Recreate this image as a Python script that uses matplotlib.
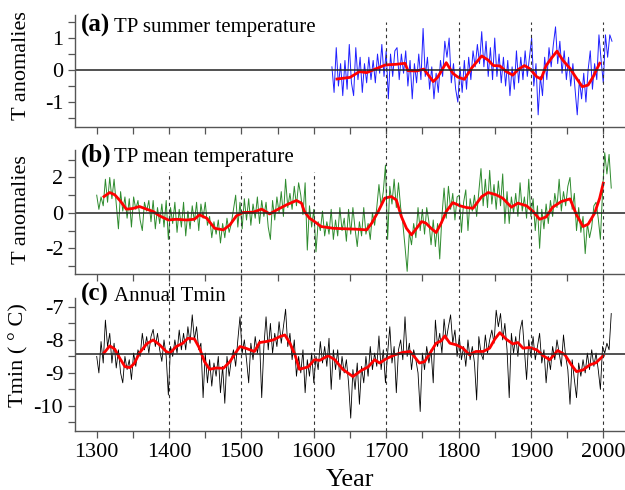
import numpy as np
import matplotlib
matplotlib.use("Agg")
import matplotlib.pyplot as plt

plt.rcParams['font.family'] = ['Liberation Serif', 'DejaVu Serif']
plt.rcParams['axes.unicode_minus'] = False

# (a) TP summer temperature, 3-yr samples from 1625
sum_start = 1625
sum_vals = [0.1, -0.7, 0.7, -0.5, 0.2, -0.8, 0.3, -0.6, 0.8, -0.4,
            -0.8, 0.7, -0.3, 0.4, -0.7, 0.2, -0.4, 0.4, -0.3, 0.3,
            -0.4, 0.5, -0.1, 0.8, -0.2, 0.6, -0.9, 0.5, -0.2, 0.6,
            0.7, -0.3, 0.5, -0.1, 0.6, -0.5, 0.3, -0.9, 0.2, -0.4,
            0.5, -0.3, 1.3, -0.2, 0.4, -0.6, 0.1, -0.9, -0.1, -0.7,
            0.3, -0.2, 0.9, 0.4, 1.0, -0.4, 0.2, -0.6, -1.0, 0.1,
            -0.7, 0.3, -0.6, 0.4, -0.3, 0.6, 0.1, 0.8, 0.2, 1.2,
            0.1, 0.9, -0.2, 0.7, -0.3, 1.0, -0.2, 0.5, -0.4, 0.4,
            -0.5, 0.3, -0.8, 0.1, -0.6, 0.6, -0.4, 0.4, -0.3, 0.6,
            -0.2, 0.4, 1.0, -0.5, 0.2, -1.4, -0.2, -0.8, 0.4, -0.3,
            0.7, 0.1, 0.8, 1.35, 0.2, 0.9, -0.1, 0.6, -0.3, 0.4,
            -0.5, 0.2, -0.6, -1.4, -0.3, -0.9, -0.1, -1.0, 0.0, 0.6,
            -0.6, 0.2, -0.3, 1.1, 0.3, -0.4, 1.1, 0.4, 1.1, 0.9]
sum_sm_yr = [1632, 1650, 1663, 1673, 1687, 1699, 1714, 1726, 1730, 1742,
             1752, 1765, 1771, 1783, 1792, 1799, 1808, 1818, 1832, 1841,
             1848, 1857, 1866, 1875, 1882, 1891, 1898, 1908, 1914, 1921,
             1928, 1936, 1944, 1954, 1963, 1971, 1979, 1986, 1995]
sum_sm = [-0.28, -0.23, -0.05, -0.08, 0.05, 0.16, 0.18, 0.21, -0.02, -0.03,
          0.03, -0.36, -0.23, 0.23, -0.1, -0.22, -0.29, 0.06, 0.44, 0.31,
          0.14, 0.13, -0.05, -0.16, 0.01, 0.14, 0.05, -0.21, -0.28, 0.14,
          0.36, 0.59, 0.31, 0.05, -0.26, -0.52, -0.47, -0.21, 0.21]

# (b) TP mean temperature, 3-yr samples from 1300
mean_start = 1300
mean_vals = [1.0, 0.2, 0.9, 0.4, 1.9, 0.6, 2.0, 0.8, 1.9, 0.5,
             -0.9, 1.2, 0.1, 0.9, -0.3, 0.8, -0.8, 0.9, 0.2, 0.7,
             -0.4, -1.0, 0.6, 0.1, 0.7, -0.5, 0.7, -0.9, 0.3, -0.6,
             0.5, -0.8, 0.7, -1.5, 0.3, -0.6, 0.6, -1.1, 0.2, -0.8,
             0.6, -1.3, 0.1, -0.9, 0.4, -0.5, 0.6, -1.0, 0.5, -0.3,
             0.6, -0.7, -0.2, -1.4, -0.5, -1.2, -0.4, -1.7, -0.6, -1.4,
             -0.3, -1.1, -0.6, 0.2, 1.0, -0.8, 0.6, -0.9, 0.8, -0.4,
             0.8, -0.7, 0.5, -0.3, 0.9, -0.6, 0.7, -0.2, 0.6, -0.8,
             -1.5, 0.7, -0.4, 0.9, 0.0, 1.2, -0.2, 1.9, 0.3, 1.1,
             0.2, 1.5, 0.4, 1.7, 1.0, -0.1, 1.7, -2.1, 0.4, -0.8,
             0.2, -2.2, -0.5, -1.0, 0.1, -1.3, -0.5, -1.2, 0.2, -1.5,
             -0.4, -1.3, 0.3, -1.0, -0.3, -1.6, 0.2, -1.2, 0.3, -0.9,
             -1.9, -0.5, -1.3, 0.3, -1.2, -0.6, -1.5, 0.0, -0.7, 0.3,
             1.6, 0.4, 1.2, 2.7, -1.5, 1.5, 0.5, 1.9, 0.3, 1.7,
             0.3, -0.6, -1.9, -3.3, -1.1, -1.8, -0.6, -1.4, 0.3, -1.0,
             0.2, -1.2, 0.3, -0.5, -1.8, -0.4, -1.9, -0.6, -2.6, -0.2,
             1.4, -0.3, 1.5, 0.2, 1.1, -0.4, 0.9, 1.0, -1.1, 0.6,
             1.3, -1.0, 0.8, 0.1, 1.0, -0.2, 1.2, 2.5, 0.4, 1.9,
             0.3, 2.4, 0.5, 1.6, 0.2, 1.8, 0.4, 2.2, -0.6, 1.2,
             -0.6, 0.9, 0.0, 1.1, -0.2, 1.7, 0.1, 0.9, -0.3, 1.9,
             -0.2, 0.8, -1.0, 0.4, -2.0, 0.2, -0.9, 0.5, -0.6, 0.7,
             -0.2, 1.1, 0.3, 1.9, 0.1, 1.2, 0.4, 1.5, 2.0, 0.2,
             1.1, -1.0, 0.3, -1.1, -0.2, -2.3, -0.6, -1.4, -0.8, 0.4,
             0.6, -0.3, -1.5, 1.2, 3.4, 2.2, 3.3, 1.4]
mean_sm_yr = [1310, 1318, 1325, 1332, 1341, 1350, 1359, 1369, 1378, 1387,
              1399, 1410, 1424, 1435, 1442, 1452, 1463, 1475, 1484, 1493,
              1502, 1516, 1528, 1539, 1548, 1562, 1576, 1583, 1587, 1594,
              1601, 1610, 1627, 1645, 1659, 1673, 1680, 1689, 1698, 1707,
              1714, 1721, 1728, 1735, 1742, 1749, 1755, 1762, 1769, 1776,
              1783, 1792, 1802, 1811, 1820, 1832, 1841, 1852, 1861, 1873,
              1882, 1894, 1903, 1912, 1921, 1930, 1942, 1954, 1963, 1972,
              1979, 1988, 1995, 2000]
mean_sm = [0.92, 1.15, 1.02, 0.7, 0.21, 0.25, 0.36, 0.21, 0.08, -0.17,
           -0.4, -0.36, -0.4, -0.36, -0.11, -0.3, -0.87, -0.96, -0.68, -0.17,
           0.02, 0.04, 0.21, -0.06, 0.15, 0.45, 0.7, 0.55, 0.08, -0.3,
           -0.49, -0.77, -0.87, -0.9, -0.92, -0.96, -0.58, 0.08, 0.83, 0.92,
           0.73, -0.21, -0.87, -1.24, -0.87, -0.49, -0.58, -0.87, -1.11, -0.58,
           0.08, 0.58, 0.4, 0.3, 0.26, 0.92, 1.15, 1.02, 0.83, 0.32,
           0.55, 0.4, 0.08, -0.36, -0.23, 0.32, 0.64, 0.79, -0.11, -0.77,
           -0.64, -0.02, 0.83, 1.68]

# (c) Annual Tmin, 3-yr samples from 1300
tmin_start = 1300
tmin_vals = [-8.5, -9.0, -8.05, -8.7, -7.4, -8.2, -7.8, -8.7, -8.1, -8.85,
             -8.3, -9.0, -9.3, -8.5, -8.9, -8.6, -9.2, -8.4, -8.8, -8.3,
             -8.5, -7.8, -8.3, -7.9, -8.4, -7.9, -7.68, -8.2, -7.8, -8.3,
             -8.65, -8.0, -8.5, -9.67, -8.2, -8.5, -8.0, -8.4, -7.7, -8.3,
             -7.8, -8.3, -7.6, -8.1, -7.24, -8.0, -7.6, -8.3, -8.1, -9.75,
             -8.4, -9.3, -8.6, -9.4, -8.7, -9.1, -8.5, -9.6, -8.8, -9.92,
             -8.5, -9.1, -8.6, -8.3, -8.8, -8.0, -7.3, -8.4, -8.0, -8.6,
             -9.3, -8.1, -8.6, -7.9, -8.4, -8.0, -9.75, -8.2, -7.3, -8.3,
             -7.5, -8.4, -7.8, -8.2, -7.45, -8.1, -7.6, -7.07, -8.2, -7.8,
             -8.6, -8.0, -9.1, -8.5, -9.0, -8.3, -9.6, -8.6, -9.1, -8.4,
             -9.3, -8.5, -8.9, -8.05, -8.7, -8.2, -8.8, -7.95, -9.5, -8.3,
             -8.9, -8.3, -9.2, -8.5, -9.0, -8.6, -9.3, -10.37, -8.9, -9.5,
             -8.7, -9.95, -8.8, -9.3, -8.5, -9.1, -8.2, -8.9, -8.4, -8.8,
             -7.88, -8.9, -8.3, -9.3, -8.4, -7.6, -8.7, -8.2, -9.6, -8.3,
             -8.0, -8.6, -7.3, -8.5, -8.1, -8.9, -8.3, -8.6, -9.0, -10.17,
             -8.4, -8.9, -8.2, -8.7, -8.3, -9.3, -7.4, -8.2, -7.8, -8.4,
             -7.37, -8.0, -7.6, -7.24, -8.1, -7.7, -8.5, -7.9, -8.6, -8.2,
             -8.8, -8.0, -8.6, -8.2, -8.7, -9.82, -7.9, -8.4, -8.6, -7.85,
             -8.4, -8.0, -7.7, -8.1, -7.1, -7.6, -7.2, -8.0, -7.5, -8.3,
             -9.75, -7.8, -8.4, -7.9, -8.5, -7.7, -7.4, -8.3, -9.2, -8.0,
             -8.5, -7.9, -8.6, -8.2, -7.8, -8.7, -8.3, -9.3, -8.5, -8.9,
             -8.2, -8.6, -8.0, -8.4, -8.8, -7.85, -8.5, -8.9, -9.95, -8.6,
             -9.2, -9.75, -8.7, -9.1, -8.6, -9.0, -8.4, -8.9, -8.3, -8.8,
             -8.4, -8.9, -9.5, -8.2, -8.4, -8.1, -8.3, -7.2]
tmin_sm_yr = [1310, 1318, 1325, 1332, 1339, 1346, 1352, 1359, 1369, 1378,
              1387, 1396, 1401, 1410, 1419, 1426, 1435, 1442, 1449, 1456,
              1465, 1475, 1484, 1491, 1498, 1507, 1514, 1518, 1525, 1534,
              1544, 1553, 1560, 1567, 1574, 1580, 1592, 1601, 1608, 1620,
              1629, 1640, 1654, 1666, 1675, 1684, 1691, 1700, 1712, 1723,
              1733, 1739, 1746, 1753, 1762, 1769, 1776, 1781, 1788, 1797,
              1806, 1815, 1824, 1834, 1843, 1850, 1857, 1866, 1875, 1882,
              1889, 1898, 1908, 1917, 1926, 1937, 1947, 1956, 1963, 1972,
              1981, 1990, 2000]
tmin_sm = [-8.4, -8.18, -8.28, -8.56, -8.81, -8.84, -8.71, -8.4, -8.12, -8.0,
           -8.15, -8.35, -8.4, -8.2, -8.1, -7.95, -7.97, -8.25, -8.66, -8.89,
           -8.85, -8.86, -8.66, -8.42, -8.2, -8.26, -8.32, -8.35, -8.08, -8.05,
           -8.0, -7.9, -7.85, -8.1, -8.45, -8.89, -8.82, -8.6, -8.62, -8.48,
           -8.6, -8.89, -9.11, -8.92, -8.82, -8.6, -8.7, -8.57, -8.45, -8.38,
           -8.35, -8.51, -8.7, -8.66, -8.35, -8.1, -8.03, -7.88, -8.1, -8.15,
           -8.25, -8.45, -8.35, -8.35, -8.25, -7.98, -7.78, -7.98, -8.12, -8.08,
           -8.25, -8.23, -8.3, -8.48, -8.6, -8.32, -8.45, -8.76, -8.96, -8.91,
           -8.76, -8.69, -8.48]
tmin_ref = -8.42

fig = plt.figure(figsize=(6.25, 4.9), dpi=100)
W, H = 625.0, 490.0
def box(top, bot):
    return [75 / W, 1 - bot / H, 550 / W, (bot - top) / H]

ax_a = fig.add_axes(box(15, 127))
ax_b = fig.add_axes(box(150, 274))
ax_c = fig.add_axes(box(298, 431))

dash = (0, (3, 3))
for ax in (ax_a, ax_b, ax_c):
    ax.set_xlim(1270, 2030)
    ax.spines['top'].set_visible(False)
    ax.spines['right'].set_visible(False)
    for s in ('left', 'bottom'):
        ax.spines[s].set_color('#555555')
        ax.spines[s].set_linewidth(1.0)
    ax.set_xticks(np.arange(1300, 2001, 100))
    ax.set_xticks(np.arange(1350, 2001, 100), minor=True)
    ax.tick_params(which='both', direction='out', length=5, width=0.9,
                   color='#555555', labelsize=16)

# panel a
yr_a = sum_start + 3 * np.arange(len(sum_vals))
ax_a.plot(yr_a, sum_vals, color='#2020ff', lw=0.7)
ax_a.plot(sum_sm_yr, sum_sm, color='red', lw=2)
ax_a.axhline(0, color='#222222', lw=1.1)
ax_a.set_ylim(-1.78, 1.72)
ax_a.set_yticks([-1, 0, 1])
ax_a.set_yticks([-1.5, -0.5, 0.5, 1.5], minor=True)
ax_a.tick_params(axis='x', labelbottom=False)
for x in (1700, 1800, 1900, 2000):
    ax_a.axvline(x, ymin=-0.21, ymax=0.94, color='#333333', lw=0.8,
                 ls=dash, clip_on=False)

# panel b
yr_b = mean_start + 3 * np.arange(len(mean_vals))
ax_b.plot(yr_b, mean_vals, color='#2e8b2e', lw=0.7)
ax_b.plot(mean_sm_yr, mean_sm, color='red', lw=2)
ax_b.axhline(0, color='#222222', lw=1.1)
ax_b.set_ylim(-3.45, 3.55)
ax_b.set_yticks([-2, 0, 2])
ax_b.set_yticks([-3, -1, 1, 3], minor=True)
ax_b.tick_params(axis='x', labelbottom=False)
for x in (1400, 1500, 1600):
    ax_b.axvline(x, ymin=-0.2, ymax=0.82, color='#333333', lw=0.8,
                 ls=dash, clip_on=False)
for x in (1700, 1800, 1900, 2000):
    ax_b.axvline(x, ymin=-0.2, ymax=1.0, color='#333333', lw=0.8,
                 ls=dash, clip_on=False)

# panel c
yr_c = tmin_start + 3 * np.arange(len(tmin_vals))
ax_c.plot(yr_c, tmin_vals, color='black', lw=0.6)
ax_c.plot(tmin_sm_yr, tmin_sm, color='red', lw=2)
ax_c.axhline(tmin_ref, color='#222222', lw=1.1)
ax_c.set_ylim(-10.76, -6.73)
ax_c.set_yticks([-10, -9, -8, -7])
ax_c.set_yticks([-10.5, -9.5, -8.5, -7.5], minor=True)
for x in range(1400, 2001, 100):
    ax_c.axvline(x, ymin=0, ymax=1.0, color='#333333', lw=0.8,
                 ls=dash, clip_on=False)
ax_c.set_xlabel('Year', fontsize=19, labelpad=5)

# titles and y labels
titles = [(ax_a, '(a)', 'TP summer temperature', 0.848),
          (ax_b, '(b)', 'TP mean temperature', 0.903),
          (ax_c, '(c)', 'Annual Tmin', 0.977)]
for ax, tag, name, yb in titles:
    ax.text(0.01, yb, tag, transform=ax.transAxes, fontsize=18,
            fontweight='bold', va='baseline')
    ax.text(0.07, yb, name, transform=ax.transAxes, fontsize=15,
            va='baseline')

ax_a.set_ylabel('T anomalies', fontsize=16)
ax_a.yaxis.set_label_coords(-0.08, 0.55)
ax_b.set_ylabel('T anomalies', fontsize=16)
ax_b.yaxis.set_label_coords(-0.08, 0.52)
ax_c.set_ylabel('Tmin ( ° C)', fontsize=16)
ax_c.yaxis.set_label_coords(-0.085, 0.57)

fig.savefig('out.png', dpi=100)
